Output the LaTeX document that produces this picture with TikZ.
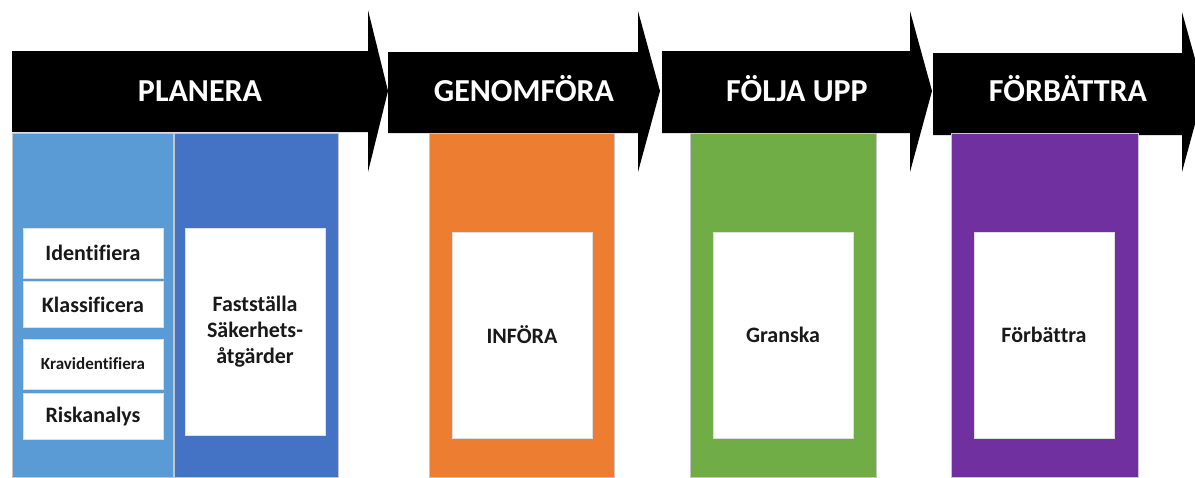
\documentclass[tikz,border=0pt]{standalone}
\usepackage{fontspec}
\setmainfont{Carlito}[Ligatures=NoCommon]
\usetikzlibrary{positioning}

\definecolor{planlight}{HTML}{5B9BD5}
\definecolor{plandark}{HTML}{4472C4}
\definecolor{doorange}{HTML}{ED7D31}
\definecolor{checkgreen}{HTML}{70AD47}
\definecolor{actpurple}{HTML}{7030A0}

\begin{document}
\begin{tikzpicture}[x=1pt, y=-1pt,
    stagehead/.style={text=white, anchor=base, font=\fontsize{32}{36}\selectfont\bfseries},
    stagebar/.style={rectangle, draw=gray!45, line width=0.5pt, anchor=north west, minimum height=344pt, inner sep=0pt},
    taskbox/.style={rectangle, fill=white, draw=gray!25, inner sep=0pt, minimum width=140pt, align=center, text=black!90, font=\fontsize{22}{26}\selectfont\bfseries}]

    \useasboundingbox (0,0) rectangle (1195,477);
    \clip (0,0) rectangle (1195,477);

    %-----Arrows-----
    % Planera
    \fill[black] (12,51) -- (368,51) -- (368,10) -- (388,91) -- (368,172) -- (368,132) -- (12,132) -- cycle;
    % Genomfora
    \fill[black] (388,52) -- (638,52) -- (638,11) -- (660,91) -- (638,172) -- (638,133) -- (388,133) -- cycle;
    % Folja upp
    \fill[black] (662,51) -- (910,51) -- (910,11) -- (932,91) -- (910,172) -- (910,133) -- (662,133) -- cycle;
    % Forbattra
    \fill[black] (933,53) -- (1182,53) -- (1182,12) -- (1204,91) -- (1182,172) -- (1182,135) -- (933,135) -- cycle;

    \node[stagehead] (planhead) at (200,101) {PLANERA};
    \node[stagehead] (dohead) at (524,101) {GENOMFÖRA};
    \node[stagehead] (checkhead) at (797,101) {FÖLJA UPP};
    \node[stagehead] (acthead) at (1068,101) {FÖRBÄTTRA};

    %-----Columns-----
    \node[stagebar, fill=planlight, minimum width=161pt] (planleft) at (12,133) {};
    \node[stagebar, fill=plandark, minimum width=164pt, right=0pt of planleft] (planright) {};
    \node[stagebar, fill=doorange, minimum width=185pt] (docol) at (429,133) {};
    \node[stagebar, fill=checkgreen, minimum width=186pt] (checkcol) at (690,133) {};
    \node[stagebar, fill=actpurple, minimum width=187pt] (actcol) at (951,133) {};

    %-----Boxes-----
    % Planera, left
    \node[taskbox, minimum height=50pt] (ident) at (93,253) {Identifiera};
    \node[taskbox, minimum height=46pt, below=3pt of ident] (klass) {Klassificera};
    \node[taskbox, minimum height=50pt, below=11pt of klass, font=\fontsize{17}{20}\selectfont\bfseries] (krav) {Kravidentifiera};
    \node[taskbox, minimum height=46pt, below=4pt of krav] (risk) {Riskanalys};

    % Planera, right
    \node[taskbox, minimum height=207pt] (fast) at (255,331.5) {Fastställa\\Säkerhets-\\åtgärder};

    % Other stages
    \node[taskbox, minimum height=206pt] (infora) at (522,335) {INFÖRA};
    \node[taskbox, minimum height=206pt] (granska) at (783,335) {Granska};
    \node[taskbox, minimum height=206pt] (forbattra) at (1044,335) {Förbättra};

\end{tikzpicture}
\end{document}
